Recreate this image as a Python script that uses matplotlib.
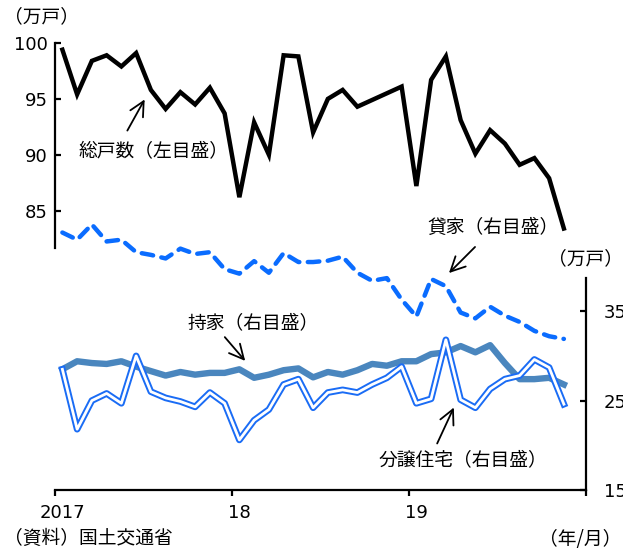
import matplotlib
matplotlib.use("Agg")
import matplotlib.pyplot as plt
import numpy as np

# 2017/1 - 2019/11 (月次)
meses = np.arange(35)

# 総戸数 (左目盛, 万戸)
total = [99.4, 95.4, 98.4, 98.9, 97.9, 99.1, 95.8, 94.1, 95.6, 94.5, 96.0, 93.7,
         86.2, 92.9, 90.0, 98.9, 98.8, 92.0, 95.0, 95.8, 94.3, 94.9, 95.5, 96.1,
         87.2, 96.7, 98.8, 93.1, 90.1, 92.2, 91.0, 89.1, 89.7, 87.9, 83.4]

# 貸家 (右目盛)
kashiya = [43.8, 43.0, 44.7, 42.8, 43.0, 41.6, 41.3, 40.9, 42.0, 41.4, 41.6, 39.7,
           39.2, 40.6, 39.3, 41.5, 40.5, 40.5, 40.65, 41.1, 39.3, 38.4, 38.7, 36.3,
           34.4, 38.6, 37.8, 34.85, 34.2, 35.5, 34.5, 33.8, 32.8, 32.2, 31.9]

# 持家 (右目盛)
mochiie = [28.5, 29.4, 29.2, 29.1, 29.4, 28.8, 28.3, 27.8, 28.2, 27.9, 28.1, 28.1,
           28.5, 27.55, 27.9, 28.4, 28.6, 27.6, 28.2, 27.9, 28.4, 29.1, 28.9, 29.4,
           29.4, 30.2, 30.4, 31.1, 30.4, 31.2, 29.2, 27.4, 27.4, 27.55, 26.8]

# 分譲住宅 (右目盛)
bunjo = [28.5, 21.8, 25.0, 25.8, 24.7, 30.0, 26.0, 25.3, 24.9, 24.3, 25.9, 24.7,
         20.6, 22.8, 24.0, 26.8, 27.4, 24.2, 25.9, 26.2, 25.9, 26.8, 27.55, 28.8,
         24.7, 25.2, 31.8, 25.1, 24.2, 26.3, 27.4, 27.8, 29.6, 28.7, 24.6]

ticks_izq = [85, 90, 95, 100]
ticks_der = [15, 25, 35]
etiquetas_x = ["2017", "18", "19"]

JP = ["Noto Sans CJK JP", "DejaVu Sans"]
W, H = 623, 550


def fx(px):
    return px / W


def fy(py):
    return 1 - py / H


fig = plt.figure(figsize=(W / 100, H / 100), dpi=100)
ax = fig.add_axes([fx(55), fy(490), fx(586) - fx(55), fy(43) - fy(490)])
ax2 = ax.twinx()

x = meses + 0.5

ax.plot(x, total, color="black", lw=3.2, solid_joinstyle="miter")
ax2.plot(x, kashiya, color="#0a6cff", lw=3.2, linestyle=(0, (2.6, 1.9)),
         dash_capstyle="round")
ax2.plot(x, mochiie, color="#4a86be", lw=4.6)
ax2.plot(x, bunjo, color="#1a6cf5", lw=4.8, zorder=4)
ax2.plot(x, bunjo, color="white", lw=2.0, zorder=5)

ax.set_xlim(0, 36)
ax.set_ylim(60, 100)
ax2.set_ylim(15, 65)

for s in ["top", "right"]:
    ax.spines[s].set_visible(False)
for s in ["top", "left", "bottom"]:
    ax2.spines[s].set_visible(False)
ax.spines["left"].set_bounds(81.7, 100)
ax2.spines["right"].set_bounds(15, 38.7)
for sp in [ax.spines["left"], ax.spines["bottom"], ax2.spines["right"]]:
    sp.set_linewidth(1.6)

ax.set_yticks(ticks_izq)
ax.set_yticklabels([str(t) for t in ticks_izq])
ax.tick_params(axis="y", direction="in", length=4.5, width=1.6, pad=5, labelsize=13)
ax2.set_yticks(ticks_der)
ax2.set_yticklabels([str(t) for t in ticks_der])
ax2.tick_params(axis="y", direction="in", length=4.5, width=1.6, pad=13, labelsize=13)

ax.set_xticks([0, 12, 24, 36])
ax.set_xticklabels([])
ax.set_xticks([0.5, 12.5, 24.5], minor=True)
ax.set_xticklabels(etiquetas_x, minor=True)
ax.tick_params(axis="x", which="major", direction="out", length=4.5, width=1.6)
ax.tick_params(axis="x", which="minor", length=0, pad=10, labelsize=13)

# textos
fig.text(fx(4), fy(17), "（万戸）", family=JP, fontsize=13.5, va="center", ha="left")
fig.text(fx(548), fy(259), "（万戸）", family=JP, fontsize=13.5, va="center", ha="left")
fig.text(fx(621), fy(540), "（年/月）", family=JP, fontsize=13.5, va="center", ha="right")
fig.text(fx(4), fy(538), "（資料）国土交通省", family=JP, fontsize=13.5, va="center", ha="left")

flecha = dict(arrowstyle="->", color="black", lw=1.3, mutation_scale=26)
notas = [
    ("総戸数（左目盛）", (78, 152), (126, 133), (146, 97)),
    ("貸家（右目盛）", (427, 227), (477, 245), (447, 275)),
    ("持家（右目盛）", (187, 323), (223, 335), (247, 363)),
    ("分譲住宅（右目盛）", (379, 460), (436, 446), (455, 405)),
]
for texto, pos, ini, fin in notas:
    fig.text(fx(pos[0]), fy(pos[1]), texto, family=JP, fontsize=13.5,
             va="center", ha="left")
    ax.annotate("", xy=(fx(fin[0]), fy(fin[1])), xycoords="figure fraction",
                xytext=(fx(ini[0]), fy(ini[1])), textcoords="figure fraction",
                arrowprops=flecha)

fig.savefig("out.png", dpi=100)
